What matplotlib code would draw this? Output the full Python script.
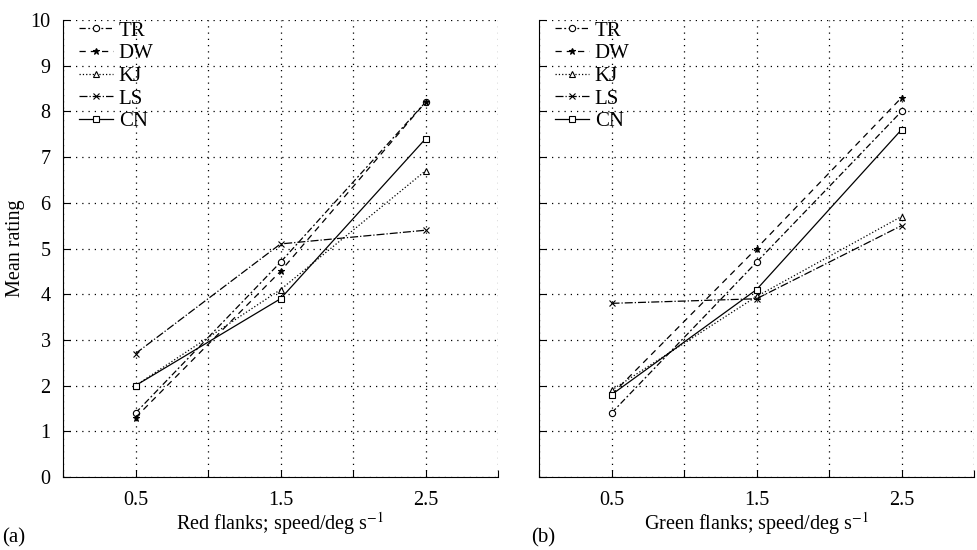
import matplotlib.pyplot as plt
import numpy as np

plt.rcParams['font.family'] = ['Liberation Serif', 'DejaVu Serif']
plt.rcParams['mathtext.fontset'] = 'stix'

# speeds (deg/s) and mean ratings
speeds = [0.5, 1.5, 2.5]
observers = ['TR', 'DW', 'KJ', 'LS', 'CN']

red_tr = [1.4, 4.7, 8.2]
red_dw = [1.3, 4.5, 8.2]
red_kj = [2.0, 4.1, 6.7]
red_ls = [2.7, 5.1, 5.4]
red_cn = [2.0, 3.9, 7.4]

green_tr = [1.4, 4.7, 8.0]
green_dw = [1.8, 5.0, 8.3]
green_kj = [1.9, 3.95, 5.7]
green_ls = [3.8, 3.9, 5.5]
green_cn = [1.8, 4.1, 7.6]

styles = {
    'TR': dict(ls=(0, (5, 2, 1.5, 2)), marker='o', mfc='white', ms=4.5),
    'DW': dict(ls=(0, (5, 4)), marker='*', mfc='black', ms=5),
    'KJ': dict(ls=':', marker='^', mfc='white', ms=5),
    'LS': dict(ls='-.', marker='x', mfc='black', ms=4),
    'CN': dict(ls='-', marker='s', mfc='white', ms=4),
}


def draw_panel(ax, series, xlabel):
    for name, vals in zip(observers, series):
        st = styles[name]
        ax.plot(speeds, vals, color='black', lw=0.9, linestyle=st['ls'],
                marker=st['marker'], markerfacecolor=st['mfc'],
                markeredgecolor='black', markersize=st['ms'],
                markeredgewidth=0.8, label=name)
    ax.set_xlim(0, 3)
    ax.set_ylim(0, 10)
    ax.set_xticks([0, 0.5, 1, 1.5, 2, 2.5, 3])
    ax.set_xticklabels(['', '0.5', '', '1.5', '', '2.5', ''])
    ax.set_yticks(range(11))
    ax.grid(True, color='black', linestyle=(0, (1, 4)), linewidth=0.9)
    ax.spines['top'].set_visible(False)
    ax.spines['right'].set_visible(False)
    ax.tick_params(direction='in', length=5, labelsize=14.5)
    ax.tick_params(axis='x', pad=10)
    ax.tick_params(axis='y', pad=9)
    ax.set_xlabel(xlabel, fontsize=14.5, labelpad=0)
    ax.legend(loc='upper left', bbox_to_anchor=(0.035, 1.0), frameon=False,
              fontsize=15, handlelength=1.6, handletextpad=0.3,
              labelspacing=0.15, borderaxespad=0.0, borderpad=0.05)


fig = plt.figure(figsize=(9.77, 5.5), dpi=100)
ax1 = fig.add_axes([63 / 977, 73 / 550, 435 / 977, 457 / 550])
ax2 = fig.add_axes([539 / 977, 73 / 550, 435 / 977, 457 / 550])

draw_panel(ax1, [red_tr, red_dw, red_kj, red_ls, red_cn],
           r'Red flanks; speed/deg s$^{-1}$')
draw_panel(ax2, [green_tr, green_dw, green_kj, green_ls, green_cn],
           r'Green flanks; speed/deg s$^{-1}$')
ax1.set_ylabel('Mean rating', fontsize=14.5, labelpad=4)
ax2.set_yticklabels([])

fig.text(2 / 977, 1 - 538 / 550, '(a)', fontsize=15, va='center')
fig.text(531 / 977, 1 - 538 / 550, '(b)', fontsize=15, va='center')

fig.savefig('out.png', dpi=100)
